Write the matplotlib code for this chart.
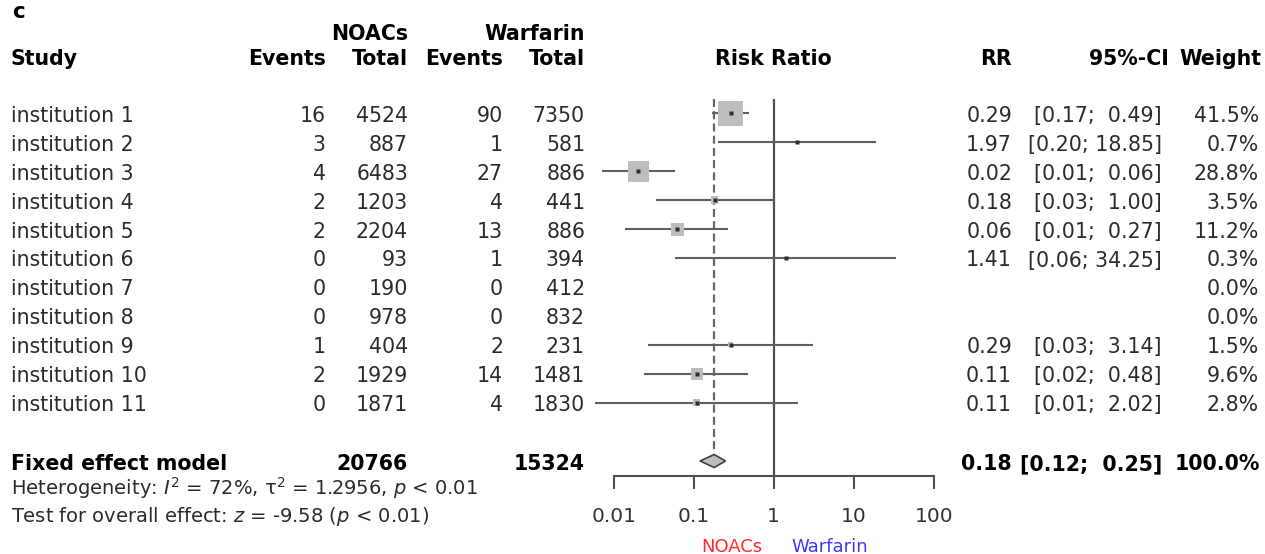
import matplotlib
matplotlib.use("Agg")
import matplotlib.pyplot as plt
import numpy as np

# ---------------- data ----------------
studies = ["institution 1", "institution 2", "institution 3", "institution 4",
           "institution 5", "institution 6", "institution 7", "institution 8",
           "institution 9", "institution 10", "institution 11"]
ev_noac = [16, 3, 4, 2, 2, 0, 0, 0, 1, 2, 0]
n_noac = [4524, 887, 6483, 1203, 2204, 93, 190, 978, 404, 1929, 1871]
ev_warf = [90, 1, 27, 4, 13, 1, 0, 0, 2, 14, 4]
n_warf = [7350, 581, 886, 441, 886, 394, 412, 832, 231, 1481, 1830]
rr = [0.29, 1.97, 0.0203, 0.183, 0.062, 1.41, None, None, 0.29, 0.11, 0.109]
ci_lo = [0.17, 0.20, 0.0071, 0.034, 0.014, 0.058, None, None, 0.027, 0.024, 0.0059]
ci_hi = [0.49, 18.85, 0.0577, 0.997, 0.27, 34.25, None, None, 3.14, 0.48, 2.02]
weight = [41.5, 0.7, 28.8, 3.5, 11.2, 0.3, 0.0, 0.0, 1.5, 9.6, 2.8]

total_noac = 20766
total_warf = 15324
fixed_rr, fixed_lo, fixed_hi, fixed_w = 0.18, 0.12, 0.25, 100.0
heterogeneity = r"Heterogeneity: $I^2$ = 72%, $\mathrm{\tau}^2$ = 1.2956, $p$ < 0.01"
overall = r"Test for overall effect: $z$ = -9.58 ($p$ < 0.01)"
xticks = [0.01, 0.1, 1, 10, 100]
xticklabels = ["0.01", "0.1", "1", "10", "100"]

# ---------------- layout ----------------
W, H = 1265, 554
plt.rcParams['font.family'] = ['DejaVu Sans']
plt.rcParams['mathtext.fontset'] = 'dejavusans'

fig = plt.figure(figsize=(W / 100, H / 100), dpi=100)
fig.patch.set_facecolor('white')

tax = fig.add_axes([0, 0, 1, 1])
tax.set_xlim(0, W)
tax.set_ylim(H, 0)
tax.axis('off')

FS = 14.8
REG = '#2b2b2b'
row0, pitch = 113.3, 28.94
rows = [row0 + pitch * i for i in range(len(studies))]
fixed_y = 461.0
off = 8.5  # baseline offset

# column right edges
x_ev1, x_n1, x_ev2, x_n2 = 326, 408, 503, 585
x_rr, x_ci, x_w = 1012, 1162, 1259

def t(x, y, s, ha='right', bold=False, fs=FS, color=None, **kw):
    tax.text(x, y, s, ha=ha, va='baseline', fontsize=fs,
             fontweight='bold' if bold else 'normal',
             color=color if color else ('black' if bold else REG), **kw)

# panel letter
t(12, 18, "c", ha='left', bold=True, fs=15.5)

# headers
t(x_n1, 40, "NOACs", bold=True)
t(x_n2, 40, "Warfarin", bold=True)
hy = 65
t(11, hy, "Study", ha='left', bold=True)
t(x_ev1, hy, "Events", bold=True)
t(x_n1, hy, "Total", bold=True)
t(x_ev2, hy, "Events", bold=True)
t(x_n2, hy, "Total", bold=True)
t(773.7, hy, "Risk Ratio", ha='center', bold=True)
t(x_rr, hy, "RR", bold=True)
t(1169, hy, "95%-CI", bold=True)
t(x_w + 2, hy, "Weight", bold=True)

# study rows
for i, y in enumerate(rows):
    yb = y + off
    t(11, yb, studies[i], ha='left')
    t(x_ev1, yb, str(ev_noac[i]))
    t(x_n1, yb, str(n_noac[i]))
    t(x_ev2, yb, str(ev_warf[i]))
    t(x_n2, yb, str(n_warf[i]))
    if rr[i] is not None:
        t(x_rr, yb, f"{rr[i]:.2f}")
        t(x_ci, yb, f"[{ci_lo[i]:.2f}; {ci_hi[i]:5.2f}]")
    t(x_w, yb, f"{weight[i]:.1f}%")

# fixed effect row
fb = fixed_y + 9
t(11, fb, "Fixed effect model", ha='left', bold=True)
t(x_n1, fb, str(total_noac), bold=True)
t(x_n2, fb, str(total_warf), bold=True)
t(x_rr, fb, f"{fixed_rr:.2f}", bold=True)
t(x_ci, fb, f"[{fixed_lo:.2f}; {fixed_hi:5.2f}]", bold=True)
t(x_w + 1, fb, f"{fixed_w:.1f}%", bold=True)

t(11, 495, heterogeneity, ha='left', fs=14)
t(11, 522, overall, ha='left', fs=14)

# ---------------- forest axes ----------------
px_left = 773.7 - 2 * 80
px_right = 773.7 + 2 * 80
top_px, bot_px = 99, 476
fax = fig.add_axes([px_left / W, (H - bot_px) / H,
                    (px_right - px_left) / W, (bot_px - top_px) / H])
fax.set_xscale('log')
fax.set_xlim(0.01, 100)
fax.set_ylim(bot_px, top_px)
fax.patch.set_alpha(0)
for s in ['top', 'left', 'right']:
    fax.spines[s].set_visible(False)
fax.spines['bottom'].set_color('#505050')
fax.spines['bottom'].set_linewidth(1.5)
fax.set_yticks([])
fax.set_xticks(xticks)
fax.set_xticklabels(xticklabels)
fax.minorticks_off()
fax.tick_params(axis='x', direction='out', length=9.5, width=1.5,
                color='#505050', labelsize=14.5, labelcolor='#333333', pad=13)

# reference lines
fax.axvline(1, color='#505050', lw=1.6, zorder=1)
fax.plot([fixed_rr, fixed_rr], [top_px, 450], color='#666666', lw=1.6,
         ls=(0, (3.6, 1.9)), zorder=1)

# CIs, boxes and points
for i, y in enumerate(rows):
    if rr[i] is None:
        continue
    fax.plot([ci_lo[i], ci_hi[i]], [y, y], color='#5f5f5f', lw=1.5,
             solid_capstyle='butt', clip_on=False, zorder=2)
    side_px = 25 * np.sqrt(weight[i] / max(weight))
    fax.scatter([rr[i]], [y], marker='s', s=(side_px * 0.72) ** 2,
                color='#bdbdbd', edgecolors='none', zorder=3, clip_on=False)
    fax.plot([rr[i]], [y], marker='s', ms=3.2, color='#2e2e2e',
             mec='none', zorder=4, clip_on=False)

# diamond
fax.fill([fixed_lo, fixed_rr, fixed_hi, fixed_rr],
         [fixed_y, fixed_y - 6.5, fixed_y, fixed_y + 6.5],
         facecolor='#bdbdbd', edgecolor='#404040', lw=1.2, zorder=3)

# favours labels
t(762, 552, "NOACs", ha='right', fs=13, color='#ff2a2a')
t(791, 552, "Warfarin", ha='left', fs=13, color='#3a3aff')

fig.savefig("out.png", dpi=100, facecolor='white')
